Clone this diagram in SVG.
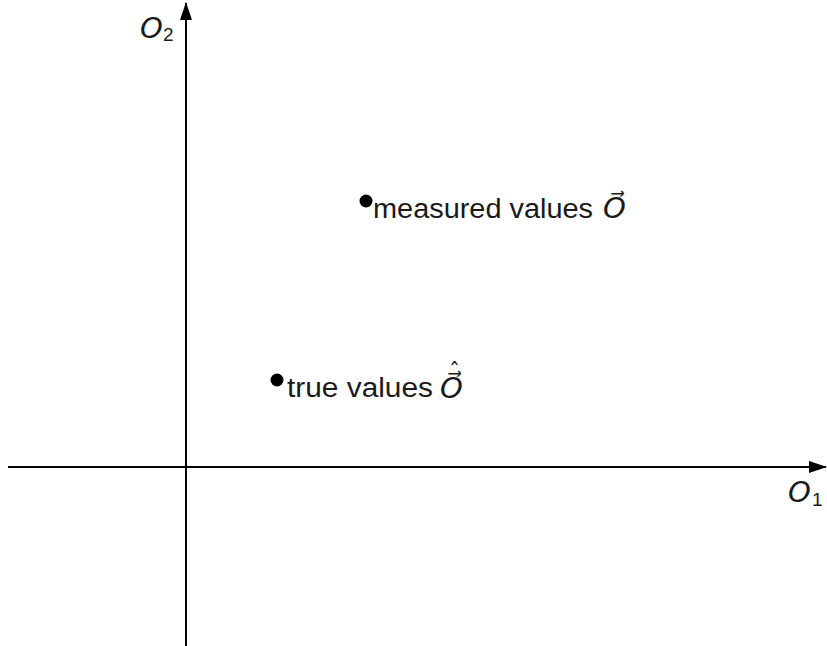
<svg xmlns="http://www.w3.org/2000/svg" width="827" height="646" viewBox="0 0 827 646">
<style>
.ax{stroke:#000;stroke-width:2;fill:none}
.t{font-family:"Liberation Sans","DejaVu Sans",sans-serif;font-size:27px;fill:#1a1a1a}
.m{font-family:"DejaVu Sans",sans-serif;font-style:italic;font-size:29px;fill:#1a1a1a}
.s{font-family:"Liberation Sans",sans-serif;font-size:19px;fill:#1a1a1a}
.h{font-style:normal;font-size:22px}
</style>
<defs>
<marker id="ah" viewBox="0 0 18 12" refX="17" refY="6" markerWidth="18" markerHeight="12" markerUnits="userSpaceOnUse" orient="auto">
<path d="M0,0 L18,6 L0,12 Z" fill="#000"/>
</marker>
</defs>
<g id="connectors">
<line class="ax" x1="8" y1="467" x2="826" y2="467" marker-end="url(#ah)"/>
<line class="ax" x1="186" y1="646" x2="186" y2="3" marker-end="url(#ah)"/>
</g>
<g id="axis-x-label"><text class="m" x="788" y="502">O</text><text class="s" x="812" y="506">1</text></g>
<g id="axis-y-label"><text class="m" x="140" y="38">O</text><text class="s" x="163" y="41">2</text></g>
<g id="measured">
<circle cx="366" cy="201" r="6.5" fill="#000"/>
<text class="t" x="373" y="218" textLength="220" lengthAdjust="spacingAndGlyphs">measured values</text>
<text class="m" x="603" y="218">O⃗</text>
</g>
<g id="true">
<circle cx="277" cy="380" r="6.5" fill="#000"/>
<text class="t" x="287" y="397" textLength="146" lengthAdjust="spacingAndGlyphs">true values</text>
<text class="m" x="440" y="398">O⃗<tspan class="h" x="449" y="378">ˆ</tspan></text>
</g>
</svg>
